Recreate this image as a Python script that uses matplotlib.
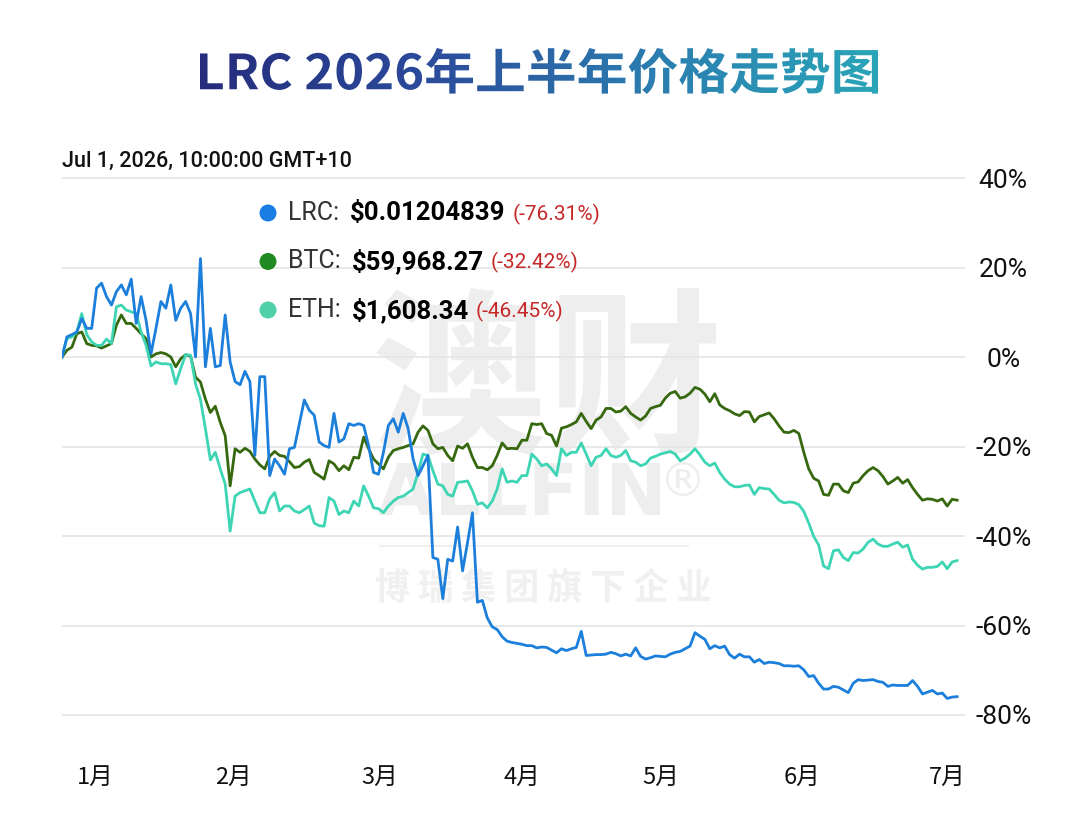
import numpy as np
import matplotlib
matplotlib.use('Agg')
import matplotlib.pyplot as plt
from matplotlib.textpath import TextPath
from matplotlib.font_manager import FontProperties
from matplotlib.patches import PathPatch
from matplotlib.transforms import Affine2D
from matplotlib.colors import LinearSegmentedColormap

plt.rcParams['font.family'] = ['Roboto', 'Noto Sans CJK SC', 'DejaVu Sans']

# ---- data (percent change since Jan 1, one value per day) ----
title = 'LRC 2026年上半年价格走势图'
timestamp = 'Jul 1, 2026, 10:00:00 GMT+10'
months = ['1月', '2月', '3月', '4月', '5月', '6月', '7月']
y_ticks = [40, 20, 0, -20, -40, -60, -80]

lrc = [0, 4.5, 5, 5.6, 8.6, 6.4, 6.4, 15.4, 16.5, 13.5,
       11.6, 14.6, 16.1, 13.9, 17.4, 7.5, 13.5, 8.2, 0.7, 6.4,
       12.4, 10.9, 16.1, 8.2, 10.9, 12.4, 9.7, 0, 22, -2.2,
       6.4, -2.2, -1.9, 9.4, -1.1, -5.5, -6.2, -3.2, -5.5, -22,
       -4.4, -4.4, -26.5, -22.8, -24.3, -26.2, -20.5, -20.2, -14.9, -9.6,
       -11.9, -13, -19, -19.8, -20.2, -12.6, -19, -18.3, -14.9, -15.3,
       -14.9, -15.3, -19.8, -25.8, -26.2, -21.3, -15.3, -13.8, -16.8, -12.6,
       -16, -22.8, -26.5, -24.3, -22, -44.8, -45.2, -54, -45.2, -45.6,
       -38, -47.8, -41.5, -34.8, -54.8, -54.4, -58.3, -60.3, -60.9, -62.5,
       -63.5, -63.8, -64, -64.2, -64.5, -64.5, -65, -64.8, -64.9, -65.5,
       -66.1, -65.2, -65.6, -65.2, -64.9, -61.3, -66.7, -66.6, -66.5, -66.5,
       -66.4, -66, -66.3, -66.8, -66.4, -66.8, -65, -66.9, -67.5, -67.2,
       -66.8, -66.9, -67, -66.4, -66, -65.8, -65.2, -64.6, -61.6, -62.4,
       -63.1, -65.2, -64.5, -65, -64.6, -66.5, -67.3, -66.4, -67, -67,
       -68.2, -67.6, -68.5, -68.2, -68.3, -68.5, -69, -69, -69.1, -69,
       -69.9, -71.4, -71.2, -72.9, -74.2, -74.2, -73.6, -73.8, -74.4, -75,
       -72.9, -72.1, -72.3, -72.2, -72.1, -72.5, -72.7, -73.6, -73.3, -73.4,
       -73.4, -73.4, -72.3, -73.6, -75.3, -74.9, -74.5, -75.3, -75.1, -76.3,
       -76, -75.9]

btc = [0, 1.5, 2.2, 5.2, 5.6, 3, 2.6, 2.5, 2, 2.5,
       3, 7.1, 9.4, 7.5, 7.5, 6.4, 5.2, 4.1, 0, 0.7,
       1, 0.7, 0, -2.2, -0.4, 0.5, 0.2, -4.5, -5.6, -9.4,
       -12.4, -11, -14.6, -17.6, -28.8, -20.5, -21.3, -20.4, -21.1, -22.8,
       -24.1, -25, -22.2, -21.1, -22, -22.2, -23.4, -24.7, -24.5, -23.5,
       -22.9, -25.8, -26.5, -27.3, -23.2, -23.9, -25.4, -24.3, -25.2, -22.4,
       -22.6, -17.9, -20.5, -22.8, -23.9, -25, -22.4, -20.9, -20.5, -20.2,
       -19.8, -19.4, -16.8, -15.4, -16.4, -19.4, -20.5, -20.2, -22, -23.2,
       -19.9, -20.4, -19.4, -22.4, -24.7, -24.7, -25.2, -24.3, -22, -19.2,
       -20.5, -20.4, -20.5, -18.6, -18.6, -14.9, -15.1, -14.9, -17.1, -17.5,
       -19.9, -15.9, -15.6, -15.1, -14.5, -12.6, -14.4, -16, -14.1, -13.4,
       -11.5, -11.5, -12.3, -12.1, -11.1, -12.6, -13.4, -14.1, -13.2, -11.5,
       -11.1, -10.8, -9.2, -8.1, -7.7, -9.2, -8.9, -8.1, -6.8, -7.2,
       -8.3, -10, -8.2, -10.7, -11.5, -12, -12.7, -13.1, -12.2, -12.3,
       -14.5, -13.3, -12.9, -12.5, -13.8, -15.4, -16.8, -16.9, -16.4, -17.1,
       -21.3, -25, -27.1, -27.7, -30.7, -30.9, -28.4, -28.4, -29.9, -30.3,
       -28.2, -27.9, -26.5, -25.4, -24.7, -25.4, -26.7, -28.4, -27.7, -26.9,
       -28.2, -27.4, -29.2, -30.7, -32, -31.7, -31.8, -32.2, -31.7, -33.3,
       -31.8, -32]

eth = [0, 4.1, 4.5, 5.6, 9.7, 5, 3.4, 2.6, 2.6, 4,
       3, 11.2, 11.6, 10.5, 10.1, 9.7, 5.6, 2.6, -2, -1.1,
       -1.5, -1.5, -1.7, -6, -2.6, 0.5, 0.4, -6, -9.5, -16,
       -23, -21.3, -25, -28.4, -38.9, -31.1, -30.3, -29.9, -29.5, -32.2,
       -34.8, -34.8, -31.7, -30.3, -34.4, -33.3, -33.3, -34.4, -34.8, -34.1,
       -33.3, -37.1, -37.7, -37.8, -31.4, -32.2, -35.2, -34.4, -34.8, -32.2,
       -33.3, -28.8, -31.1, -33.7, -33.9, -34.8, -33.3, -32.2, -31.4, -31.1,
       -30.3, -29.5, -25.8, -21.7, -22, -25.4, -28.4, -28.8, -30.7, -31.1,
       -28, -27.9, -27.7, -29.9, -32.9, -32.6, -33.7, -32.2, -29.5, -25,
       -28, -27.7, -28, -26.5, -26.5, -21.7, -22.8, -24.3, -23.9, -25,
       -26.5, -20.5, -22, -21.3, -21.3, -19.2, -21.7, -24.3, -22.4, -22,
       -20.5, -22, -22.4, -22, -20.9, -23.2, -23.5, -24.3, -23.9, -22.6,
       -22.2, -21.7, -21.4, -21.1, -21.7, -23.2, -22.6, -21.7, -20.5, -21.9,
       -23.5, -24.3, -23.7, -25.8, -27.3, -28.4, -29, -29, -28.7, -28.6,
       -30.7, -29.2, -29.4, -29.5, -30.7, -32, -32.6, -32.4, -32.5, -33,
       -34.5, -37.1, -40.1, -42, -46.7, -47.3, -43.3, -43.1, -44.8, -45.5,
       -43.7, -43.8, -42.9, -41.4, -40.7, -41.8, -42.3, -42.3, -41.8, -41.4,
       -42.5, -42, -45.2, -46.5, -47.4, -47, -47, -46.8, -45.8, -47.3,
       -45.8, -45.5]

days = np.arange(len(lrc))

coins = ['LRC', 'BTC', 'ETH']
prices = ['$0.01204839', '$59,968.27', '$1,608.34']
changes = ['(-76.31%)', '(-32.42%)', '(-46.45%)']
line_colors = ['#1c7fdb', '#36690f', '#3dd5b4']
dot_colors = ['#1a7de4', '#1f8a22', '#4ed0a9']

W, H = 1080, 840
fig = plt.figure(figsize=(W / 100, H / 100), dpi=100)
fig.patch.set_facecolor('white')


def overlay(z):
    a = fig.add_axes([0, 0, 1, 1], zorder=z)
    a.set_xlim(0, W)
    a.set_ylim(H, 0)
    a.axis('off')
    a.patch.set_alpha(0)
    return a


def fit_text(a, s, x0, x1, ytop, ybot, fp, **kw):
    tp = TextPath((0, 0), s, size=100, prop=fp)
    e = tp.get_extents()
    tr = Affine2D().translate(-e.x0, -e.y0).scale((x1 - x0) / e.width, -(ybot - ytop) / e.height).translate(x0, ybot)
    p = PathPatch(tr.transform_path(tp), **kw)
    a.add_patch(p)
    return p


# watermark behind the chart
ax_wm = overlay(0)
fp_cjk_heavy = FontProperties(family='Noto Sans CJK SC', weight='black')
wm = '#eeeeee'
fit_text(ax_wm, '澳财', 376, 716, 288, 455, fp_cjk_heavy, facecolor=wm, edgecolor='none')
fit_text(ax_wm, 'ALLFIN', 378, 660, 463, 515, FontProperties(family='DejaVu Sans', weight='bold'),
         facecolor=wm, edgecolor='none')
fit_text(ax_wm, '®', 666, 700, 462, 496, FontProperties(family='DejaVu Sans'), facecolor=wm, edgecolor='none')
ax_wm.plot([380, 688], [546, 546], color='#efefef', lw=1.5)
fit_text(ax_wm, '博 瑞 集 团 旗 下 企 业', 376, 710, 568, 603, fp_cjk_heavy, facecolor='#f0f0f0', edgecolor='none')

# main chart
ylo, yhi = -86, 40.4
px_per = 89.5 / 20
top_px = 178 - (yhi - 40) * px_per
bot_px = 178 + (40 - ylo) * px_per
ax = fig.add_axes([62 / W, (H - bot_px) / H, 903 / W, (bot_px - top_px) / H], zorder=1)
ax.patch.set_alpha(0)
ax.plot(days, btc, color=line_colors[1], lw=2.0, solid_joinstyle='round')
ax.plot(days, eth, color=line_colors[2], lw=2.0, solid_joinstyle='round')
ax.plot(days, lrc, color=line_colors[0], lw=2.0, solid_joinstyle='round')
ax.set_xlim(0, 182.6)
ax.set_ylim(ylo, yhi)
for s in ax.spines.values():
    s.set_visible(False)
ax.yaxis.tick_right()
ax.set_yticks(y_ticks)
ax.set_yticklabels([f'{v}%' for v in y_ticks], fontsize=19, color='#111111', ha='center')
ax.grid(axis='y', color='#e6e6e6', lw=1.3)
ax.set_axisbelow(True)
month_pos = [6.7, 34.6, 64.3, 93.0, 121.1, 149.7, 179.0]
ax.set_xticks(month_pos)
ax.set_xticklabels(months, fontsize=17, color='#111111', family=['Noto Sans CJK SC', 'DejaVu Sans'])
ax.tick_params(axis='y', length=0, pad=27.5)
ax.tick_params(axis='x', length=0, pad=17)

# title, header, legend on top
ax_top = overlay(2)
fp_title = FontProperties(family='Noto Sans CJK SC', weight='bold')
clip = fit_text(ax_top, title, 200, 878, 48, 94, fp_title, facecolor='none', edgecolor='none')
cmap = LinearSegmentedColormap.from_list('t', ['#252d7c', '#2b4b9b', '#2b7db0', '#2aa5b8'])
im = ax_top.imshow(np.linspace(0, 1, 256)[None, :], extent=[200, 878, 96, 46], cmap=cmap,
                   aspect='auto', interpolation='bilinear')
im.set_clip_path(clip)
ax_top.set_xlim(0, W)
ax_top.set_ylim(H, 0)

ax_top.text(62, 167, timestamp, fontsize=15.5, fontweight='medium', color='#111111', va='baseline', ha='left')

renderer = fig.canvas.get_renderer()
for i in range(3):
    yc = 213 + 48.5 * i
    ax_top.scatter([268], [yc], s=150, color=dot_colors[i], edgecolors='none')
    t = ax_top.text(288, yc, coins[i] + ':', fontsize=18, color='#333333', va='center', ha='left')
    x = t.get_window_extent(renderer).x1 + 11
    t = ax_top.text(x, yc, prices[i], fontsize=18.5, fontweight='bold', color='#000000', va='center', ha='left')
    x = t.get_window_extent(renderer).x1 + 7
    ax_top.text(x, yc + 1, changes[i], fontsize=15, color='#c62828', va='center', ha='left')

fig.savefig('out.png', dpi=100, facecolor='white')
